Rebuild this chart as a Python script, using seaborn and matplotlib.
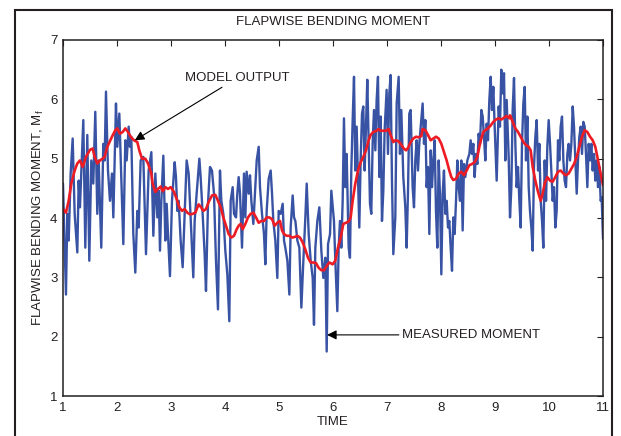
import numpy as np
import pandas as pd
import matplotlib
matplotlib.use("Agg")
import matplotlib.pyplot as plt
import matplotlib.patches as mpatches
import seaborn as sns

# ---- data ----
meas_t = [1.000, 1.055, 1.080, 1.105, 1.142, 1.179, 1.216, 1.265, 1.290, 1.314, 1.376, 1.413, 1.450, 1.487,
          1.524, 1.561, 1.598, 1.635, 1.660, 1.709, 1.746, 1.771, 1.796, 1.833, 1.870, 1.907, 1.932, 1.981,
          2.006, 2.043, 2.080, 2.117, 2.154, 2.179, 2.216, 2.240, 2.265, 2.302, 2.339, 2.376, 2.401, 2.438,
          2.487, 2.537, 2.586,
          2.636, 2.673, 2.710, 2.747, 2.772, 2.796, 2.821, 2.858, 2.895, 2.920, 2.944, 2.981, 3.018, 3.068,
          3.092, 3.117, 3.142, 3.179, 3.216, 3.253, 3.290, 3.327, 3.352, 3.376, 3.413, 3.438, 3.475, 3.525,
          3.549, 3.586, 3.623, 3.648, 3.685, 3.722, 3.759, 3.796, 3.833, 3.870, 3.907, 3.932, 3.969, 4.006,
          4.043, 4.080, 4.105, 4.142, 4.167, 4.204, 4.228, 4.253,
          4.278, 4.315, 4.352, 4.377, 4.401, 4.438, 4.463, 4.488, 4.525, 4.562, 4.587, 4.624, 4.648, 4.685,
          4.722, 4.747, 4.772, 4.809, 4.846, 4.871, 4.895, 4.932, 4.969, 4.994, 5.031, 5.068, 5.093, 5.117,
          5.155, 5.192, 5.216, 5.253, 5.278, 5.303, 5.340, 5.377, 5.414, 5.451, 5.488, 5.513, 5.550, 5.587,
          5.624, 5.648, 5.673, 5.710, 5.747, 5.784, 5.821, 5.858, 5.883, 5.908, 5.945, 5.969,
          6.018, 6.043, 6.080, 6.105, 6.129, 6.154, 6.179, 6.203, 6.228, 6.253, 6.290, 6.314, 6.339, 6.364,
          6.389, 6.413, 6.438, 6.463, 6.487, 6.512, 6.537, 6.561, 6.586, 6.611, 6.635, 6.660, 6.685, 6.709,
          6.734, 6.759, 6.784, 6.808, 6.833, 6.858, 6.882, 6.907, 6.932, 6.956, 6.993, 7.018, 7.043, 7.067,
          7.092, 7.117, 7.154, 7.179, 7.216, 7.240, 7.265, 7.302, 7.339, 7.364, 7.388, 7.413, 7.438, 7.475,
          7.500, 7.524, 7.549, 7.574, 7.598, 7.635,
          7.660, 7.685, 7.710, 7.734, 7.759, 7.784, 7.809, 7.833, 7.858, 7.883, 7.907, 7.932, 7.957, 7.981,
          8.006, 8.031, 8.055, 8.080, 8.105, 8.130, 8.154, 8.179, 8.204, 8.228, 8.253, 8.278, 8.302, 8.327,
          8.352, 8.376, 8.401, 8.426, 8.450, 8.488, 8.525, 8.549, 8.574, 8.599, 8.623, 8.648, 8.673, 8.697,
          8.722, 8.747, 8.772, 8.796, 8.821, 8.846, 8.870, 8.895, 8.920, 8.944, 8.969, 8.994, 9.031, 9.068,
          9.092, 9.117, 9.142, 9.167, 9.191, 9.216, 9.253, 9.278,
          9.303, 9.327, 9.352, 9.377, 9.401, 9.426, 9.451, 9.475, 9.500, 9.525, 9.550, 9.574, 9.599, 9.624,
          9.648, 9.673, 9.698, 9.722, 9.747, 9.772, 9.797, 9.821, 9.846, 9.871, 9.895, 9.920, 9.945, 9.969,
          9.994, 10.019, 10.043, 10.068, 10.093, 10.117, 10.142, 10.167, 10.191, 10.216, 10.241, 10.266,
          10.290, 10.315, 10.340, 10.364, 10.389, 10.414, 10.439, 10.463, 10.488, 10.513, 10.537, 10.562,
          10.587, 10.611, 10.636, 10.661, 10.685, 10.710, 10.735, 10.760, 10.784, 10.809, 10.834, 10.858,
          10.883, 10.908, 10.932, 10.957, 10.975, 11.000]
meas_v = [4.58, 2.71, 4.07, 3.62, 4.75, 5.34, 4.07, 3.42, 4.63, 4.18, 5.65, 3.50, 5.40, 3.28,
          4.97, 4.58, 5.79, 4.07, 4.97, 3.50, 5.25, 4.97, 6.13, 4.80, 4.29, 4.75, 4.01, 5.93,
          5.20, 5.76, 4.63, 3.56, 5.31, 4.97, 5.54, 5.20, 5.37, 3.73, 3.08, 4.12, 3.84, 4.97,
          5.03, 3.39, 4.80,
          5.11, 3.70, 4.75, 4.01, 4.46, 3.45, 4.29, 5.05, 3.62, 4.24, 3.73, 3.02, 4.29, 4.94,
          4.69, 4.12, 4.29, 3.62, 3.17, 4.07, 4.97, 4.75, 4.24, 3.79, 3.00, 3.95, 4.41, 5.00,
          4.69, 4.07, 3.39, 2.77, 4.24, 4.86, 4.80, 4.41, 3.28, 2.46, 4.80, 4.29, 4.07, 3.45,
          3.05, 2.26, 4.29, 4.52, 4.07, 4.01, 4.41, 4.69,
          4.41, 3.50, 4.75, 4.01, 4.78, 4.41, 4.72, 4.29, 3.90, 4.52, 4.97, 5.20, 4.52, 4.07,
          3.73, 3.22, 4.12, 4.66, 4.80, 4.41, 3.95, 3.62, 2.99, 4.12, 4.07, 4.24, 3.62, 3.50,
          3.28, 2.71, 3.84, 4.38, 4.01, 3.95, 3.62, 3.50, 2.49, 3.28, 4.01, 4.58, 3.73, 3.28,
          2.99, 2.20, 3.50, 3.95, 4.18, 3.45, 2.99, 3.33, 1.75, 3.56, 3.73, 4.46,
          3.95, 3.28, 2.43, 3.50, 3.95, 3.50, 4.29, 5.68, 4.52, 5.08, 3.50, 3.33, 4.80, 5.65,
          6.38, 4.80, 5.54, 4.69, 3.84, 4.97, 5.76, 5.88, 4.80, 5.54, 6.33, 5.31, 4.24, 4.07,
          5.25, 5.82, 5.14, 5.99, 6.38, 4.69, 5.71, 3.95, 4.46, 5.48, 6.16, 5.08, 6.10, 6.41,
          4.63, 3.39, 4.01, 5.93, 6.38, 5.08, 5.82, 4.69, 4.18, 3.50, 4.41, 5.76, 5.82, 4.52,
          4.18, 4.97, 5.31, 4.80, 5.25, 5.65,
          5.93, 5.25, 5.65, 4.52, 4.86, 3.73, 5.14, 4.52, 4.97, 5.31, 4.12, 3.50, 4.97, 4.41,
          3.05, 4.41, 4.80, 4.07, 4.29, 3.84, 3.95, 3.50, 3.11, 4.01, 3.73, 4.29, 4.97, 4.52,
          4.29, 4.97, 3.79, 4.91, 4.69, 4.97, 5.08, 5.31, 5.08, 5.25, 4.69, 5.08, 4.91, 5.42,
          5.25, 5.82, 5.71, 5.37, 4.97, 5.59, 5.31, 5.99, 6.38, 5.82, 6.21, 5.54, 4.63, 5.88,
          5.54, 6.50, 6.10, 6.44, 4.97, 5.99, 5.03, 4.01,
          4.52, 5.82, 6.36, 5.25, 4.52, 4.86, 4.29, 3.84, 5.25, 5.93, 6.21, 4.97, 5.71, 4.52,
          4.12, 3.84, 3.45, 4.86, 5.37, 5.65, 4.80, 5.25, 4.29, 3.95, 3.50, 4.97, 4.29, 5.20,
          5.65, 5.25, 4.80, 4.29, 4.52, 3.84, 4.12, 5.31, 4.97, 5.54, 5.71, 4.97,
          4.63, 4.52, 5.08, 5.25, 4.97, 5.25, 5.88, 5.54, 4.97, 4.41, 4.97, 5.37,
          5.54, 5.08, 5.62, 5.54, 5.08, 4.52, 5.25, 4.97, 5.25, 4.80, 5.08, 4.63,
          4.97, 4.52, 4.86, 4.29, 4.35, 3.65]

model_t = [1.000, 1.055, 1.105, 1.154, 1.216, 1.265, 1.314, 1.364, 1.425, 1.500, 1.549, 1.586, 1.635,
           1.685, 1.734, 1.771, 1.821, 1.907, 1.969, 2.006, 2.055, 2.105, 2.154, 2.203, 2.253, 2.314,
           2.376, 2.413, 2.463, 2.524, 2.574, 2.635,
           2.660, 2.710, 2.759, 2.809, 2.846, 2.895, 2.944, 2.994, 3.055, 3.105, 3.154, 3.204, 3.253,
           3.302, 3.352, 3.401, 3.451, 3.512, 3.549, 3.599, 3.648, 3.697, 3.759, 3.821, 3.870, 3.920,
           3.969, 4.018, 4.068, 4.117, 4.167, 4.216, 4.253, 4.290,
           4.327, 4.377, 4.426, 4.475, 4.525, 4.574, 4.624, 4.673, 4.722, 4.772, 4.821, 4.871, 4.920,
           4.969, 5.019, 5.056, 5.093, 5.142, 5.192, 5.241, 5.290, 5.340, 5.389, 5.438, 5.488, 5.537,
           5.587, 5.636, 5.685, 5.735, 5.784, 5.834, 5.883, 5.932,
           5.993, 6.043, 6.092, 6.142, 6.191, 6.240, 6.290, 6.327, 6.364, 6.413, 6.463, 6.512, 6.561,
           6.611, 6.660, 6.697, 6.746, 6.808, 6.845, 6.882, 6.932, 6.981, 7.030, 7.067, 7.117, 7.154,
           7.203, 7.253, 7.302, 7.352, 7.389, 7.438, 7.487, 7.537, 7.586, 7.635,
           7.660, 7.710, 7.759, 7.809, 7.858, 7.907, 7.957, 8.006, 8.055, 8.105, 8.154, 8.191, 8.228,
           8.278, 8.327, 8.376, 8.426, 8.475, 8.525, 8.574, 8.623, 8.673, 8.710, 8.747, 8.784, 8.821,
           8.870, 8.920, 8.969, 9.018, 9.068, 9.117, 9.167, 9.216, 9.265,
           9.278, 9.327, 9.377, 9.426, 9.475, 9.525, 9.574, 9.624, 9.661, 9.698, 9.747, 9.797, 9.846,
           9.883, 9.920, 9.969, 10.019, 10.068, 10.117, 10.167, 10.216, 10.266, 10.315, 10.364, 10.414,
           10.463, 10.513, 10.562, 10.611, 10.661, 10.710, 10.760, 10.809, 10.858, 10.908, 10.945, 11.000]
model_v = [4.15, 4.09, 4.29, 4.58, 4.80, 4.92, 4.97, 4.86, 5.03, 5.15, 5.17, 5.03, 4.92,
           4.97, 5.00, 5.03, 5.20, 5.37, 5.48, 5.51, 5.42, 5.45, 5.51, 5.45, 5.37, 5.31,
           5.28, 5.14, 5.00, 5.00, 4.92, 4.75,
           4.58, 4.44, 4.49, 4.53, 4.45, 4.52, 4.49, 4.52, 4.44, 4.32, 4.18, 4.12, 4.15,
           4.09, 4.06, 4.07, 4.09, 4.23, 4.19, 4.12, 4.15, 4.27, 4.38, 4.39, 4.29, 4.18,
           4.01, 3.87, 3.73, 3.67, 3.70, 3.81, 3.87, 3.90,
           3.81, 3.90, 4.01, 4.07, 4.09, 4.01, 3.92, 3.95, 3.95, 4.01, 4.01, 3.98, 3.87,
           3.92, 3.95, 3.79, 3.73, 3.70, 3.70, 3.67, 3.68, 3.70, 3.67, 3.59, 3.47, 3.33,
           3.25, 3.25, 3.24, 3.16, 3.12, 3.12, 3.19, 3.25,
           3.22, 3.28, 3.50, 3.67, 3.90, 3.92, 3.94, 4.01, 4.29, 4.58, 4.80, 4.94, 5.03,
           5.14, 5.31, 5.40, 5.45, 5.47, 5.50, 5.47, 5.47, 5.47, 5.50, 5.40, 5.28, 5.31,
           5.30, 5.25, 5.18, 5.14, 5.18, 5.28, 5.34, 5.37, 5.36, 5.38,
           5.50, 5.48, 5.40, 5.31, 5.34, 5.37, 5.34, 5.25, 5.11, 4.97, 4.80, 4.69, 4.64,
           4.66, 4.75, 4.78, 4.72, 4.80, 4.89, 4.91, 4.94, 5.03, 5.20, 5.34, 5.45, 5.48,
           5.51, 5.56, 5.62, 5.66, 5.68, 5.66, 5.69, 5.72, 5.68,
           5.73, 5.62, 5.51, 5.45, 5.37, 5.28, 5.23, 5.20, 5.14, 4.86, 4.63, 4.44, 4.29,
           4.41, 4.58, 4.69, 4.63, 4.61, 4.69, 4.78, 4.80, 4.75, 4.72, 4.75, 4.83,
           4.91, 5.03, 5.20, 5.37, 5.48, 5.45, 5.37, 5.31, 5.20, 4.97, 4.80, 4.55]

x_ticks = [1, 2, 3, 4, 5, 6, 7, 8, 9, 10, 11]
y_ticks = [1, 2, 3, 4, 5, 6, 7]
title_text = "FLAPWISE BENDING MOMENT"
xlabel_text = "TIME"
ylabel_text = "FLAPWISE BENDING MOMENT, M$_\\mathregular{f}$"
model_label = "MODEL OUTPUT"
meas_label = "MEASURED MOMENT"

# ---- plotting ----
sns.set_style("white")
plt.rcParams["font.family"] = ["Liberation Sans", "DejaVu Sans"]
plt.rcParams["mathtext.fontset"] = "custom"
plt.rcParams["mathtext.rm"] = "Liberation Sans"
plt.rcParams["mathtext.it"] = "Liberation Sans"

txt_col = "#231f20"
blue = "#3953a4"
red = "#ed1c24"

fig = plt.figure(figsize=(6.21, 4.36), dpi=100)
ax = fig.add_axes([63 / 621, 1 - 396 / 436, 540 / 621, 356 / 436])

meas_df = pd.DataFrame({"t": meas_t, "v": meas_v})
model_df = pd.DataFrame({"t": model_t, "v": model_v})
sns.lineplot(data=meas_df, x="t", y="v", ax=ax, color=blue, lw=1.7,
             sort=False, estimator=None)
sns.lineplot(data=model_df, x="t", y="v", ax=ax, color=red, lw=1.9,
             sort=False, estimator=None)

ax.set_xlim(1, 11)
ax.set_ylim(1, 7)
ax.set_xticks(x_ticks)
ax.set_yticks(y_ticks)
ax.tick_params(direction="in", length=4, width=0.8, top=True, right=True,
               labelsize=9.5, colors=txt_col, pad=4)
for s in ax.spines.values():
    s.set_visible(True)
    s.set_linewidth(1.1)
    s.set_color(txt_col)

ax.set_xlabel(xlabel_text, fontsize=9.5, color=txt_col, labelpad=2)
ax.set_ylabel(ylabel_text, fontsize=9.5, color=txt_col, labelpad=3)
ax.set_title(title_text, fontsize=9.5, color=txt_col, pad=11)

arrow = dict(arrowstyle="-|>", color="black", lw=0.8, mutation_scale=14,
             shrinkA=0, shrinkB=0)
ax.annotate(model_label, xy=(2.33, 5.31), xytext=(3.26, 6.36), fontsize=9.5,
            color=txt_col, ha="left", va="center", arrowprops=arrow)
ax.annotate(meas_label, xy=(5.89, 2.03), xytext=(7.28, 2.03), fontsize=9.5,
            color=txt_col, ha="left", va="center", arrowprops=arrow)

# outer frame around the figure
frame = mpatches.Rectangle((15 / 621, -0.1), (612 - 15) / 621, 1.1 - 10 / 436,
                           transform=fig.transFigure, fill=False,
                           edgecolor=txt_col, lw=1.5, clip_on=False)
fig.patches.append(frame)

fig.savefig("out.png", dpi=100)
